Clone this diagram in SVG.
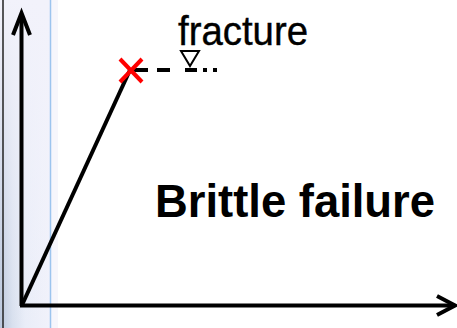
<svg xmlns="http://www.w3.org/2000/svg" width="457" height="328" viewBox="0 0 457 328">
  <style>
    .ax { stroke: #000; stroke-width: 4; fill: none; }
    .head { stroke: #000; stroke-width: 4; fill: none; stroke-linejoin: miter; }
    .dash { stroke: #000; stroke-width: 4; fill: none; }
    .lbl { font-family: "Liberation Sans", Arial, sans-serif; fill: #000; }
  </style>
  <defs>
    <linearGradient id="strip" x1="0" y1="0" x2="1" y2="0">
      <stop offset="0" stop-color="#b9c6dc"/>
      <stop offset="0.25" stop-color="#d8e0ee"/>
      <stop offset="0.5" stop-color="#e9edf8"/>
      <stop offset="1" stop-color="#f1f2fb"/>
    </linearGradient>
    <linearGradient id="fade" x1="0" y1="0" x2="0" y2="1">
      <stop offset="0" stop-color="#f2f2fb" stop-opacity="1"/>
      <stop offset="0.5" stop-color="#f2f2fb" stop-opacity="0.5"/>
      <stop offset="1" stop-color="#f2f2fb" stop-opacity="0"/>
    </linearGradient>
  </defs>
  <rect width="457" height="328" fill="#fff"/>
  <g id="background">
    <rect x="0" y="0" width="50" height="328" fill="url(#strip)"/>
    <rect x="0" y="0" width="50" height="328" fill="url(#fade)"/>
    <rect x="50" y="0" width="8" height="328" fill="#f6f6fc"/>
    <line x1="3" y1="0" x2="3" y2="328" stroke="#222" stroke-width="1.5"/>
    <line x1="50.5" y1="0" x2="50.5" y2="328" stroke="#9cc4ee" stroke-width="1.5"/>
  </g>
  <g id="connectors">
    <line class="ax" x1="21.5" y1="306" x2="21.5" y2="14"/>
    <polyline class="head" points="13,35 21.5,13 30,35"/>
    <line class="ax" x1="20" y1="305.5" x2="453" y2="305.5"/>
    <polyline class="head" points="437,296 455,305.5 437,315"/>
    <line class="ax" x1="22" y1="305" x2="130" y2="70"/>
    <path class="dash" d="M130,70 H148 M157,70 H170 M185,70 H197 M203,70 H207 M213,70 H217"/>
  </g>
  <g id="fracture-mark">
    <path d="M120,59 L142,82 M142,59 L120,82" stroke="#ff0000" stroke-width="4" fill="none"/>
    <polygon points="181,51 199,51 190,66" fill="#fff" stroke="#000" stroke-width="2"/>
  </g>
  <g id="fracture-label">
    <text class="lbl" x="178" y="45" font-size="41" stroke="#000" stroke-width="0.4" textLength="130" lengthAdjust="spacingAndGlyphs">fracture</text>
  </g>
  <g id="title">
    <text class="lbl" x="155" y="217" font-size="46" font-weight="bold" textLength="280" lengthAdjust="spacingAndGlyphs">Brittle failure</text>
  </g>
</svg>
